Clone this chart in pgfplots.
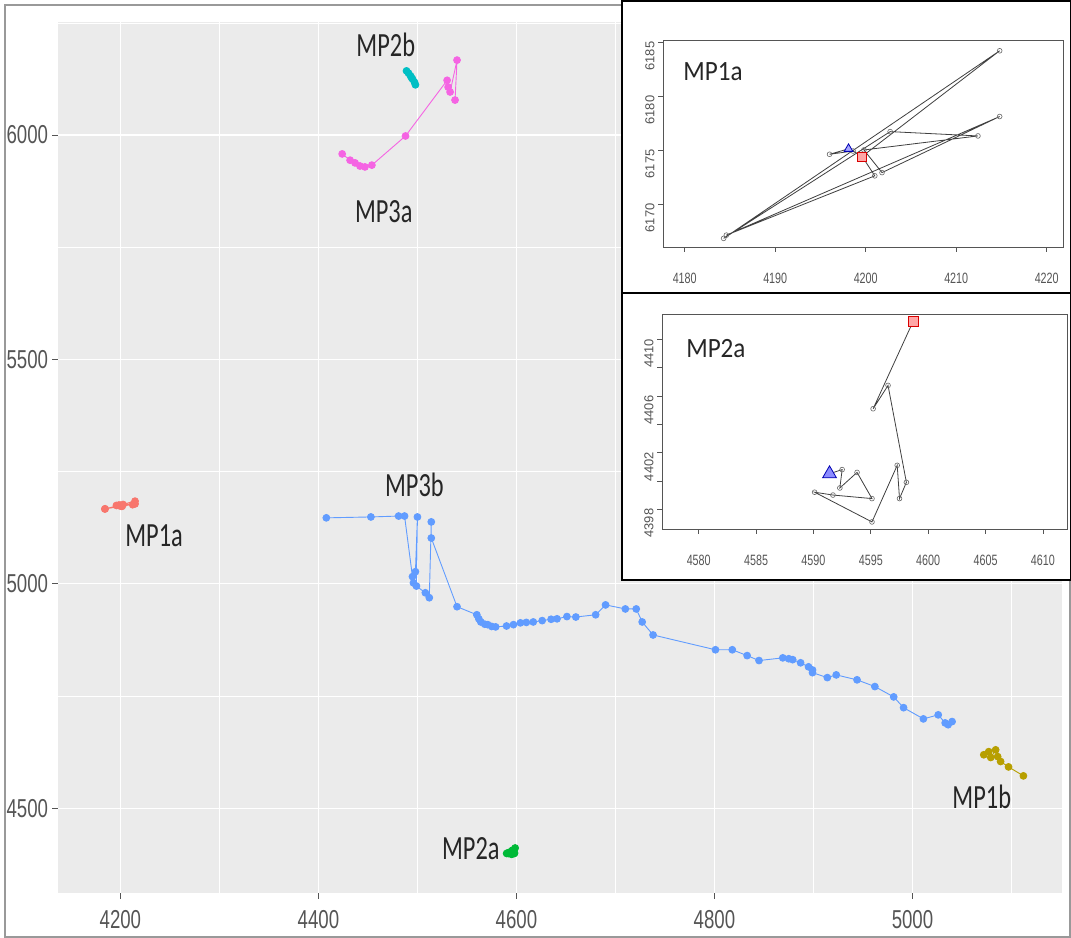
\documentclass[border=0pt]{standalone}
\usepackage{pgfplots}
\pgfplotsset{compat=1.18}
\usepackage{fontspec}
\setmainfont{Liberation Sans}
\newfontfamily\calfont{Carlito}
\definecolor{ggbg}{HTML}{EBEBEB}
\definecolor{ca}{HTML}{F8766D}
\definecolor{cb}{HTML}{B79F00}
\definecolor{cc}{HTML}{00BA38}
\definecolor{cd}{HTML}{00BFC4}
\definecolor{ce}{HTML}{F564E3}
\definecolor{cf}{HTML}{619CFF}
\definecolor{tickgray}{HTML}{555555}
\pgfplotsset{
  ggline/.style={color=#1, line width=0.9bp, mark=*, mark size=3.4bp, mark options={fill=#1, draw=#1}},
  inset/.style={scale only axis, axis background/.style={fill=white},
    axis line style={tickgray, line width=0.7bp},
    tick align=outside, xtick pos=left, ytick pos=left, major tick length=5bp,
    tick style={tickgray, line width=0.7bp},
    ticklabel style={text=tickgray},
    xticklabel style={font=\fontsize{15}{15}\selectfont, xscale=0.72, anchor=north, yshift=-18bp},
    yticklabel style={font=\fontsize{13}{13}\selectfont, rotate=90, anchor=south, xshift=-14bp},
    /pgf/number format/1000 sep={}, /pgf/number format/assume math mode=true},
  rline/.style={color=black!75, line width=0.8bp, mark=o, mark size=2.4bp, mark options={draw=black!60, line width=0.6bp, fill=white}},
}
\begin{document}
\begin{tikzpicture}[x=1bp,y=1bp]
\path[use as bounding box] (0,0) rectangle (1071,938);
\draw[gray!80, line width=1.2bp] (5,1) rectangle (1070,933);
\begin{axis}[
  at={(58bp,45bp)}, anchor=south west, scale only axis, width=1004bp, height=871bp,
  xmin=4137, xmax=5151, ymin=4311, ymax=6252,
  axis background/.style={fill=ggbg},
  axis line style={draw=none},
  grid=both,
  major grid style={white, line width=1.3bp},
  minor grid style={white, line width=0.6bp},
  xtick={4200,4400,4600,4800,5000}, ytick={4500,5000,5500,6000},
  minor xtick={4300,4500,4700,4900,5100}, minor ytick={4750,5250,5750,6250},
  tick align=outside, major tick length=6bp, minor tick length=0bp,
  xtick pos=left, ytick pos=left,
  tick style={color=tickgray, line width=0.8bp},
  ticklabel style={font=\fontsize{26}{26}\selectfont, text=tickgray, xscale=0.72},
  xticklabel style={anchor=north, yshift=-8bp},
  yticklabel style={anchor=east, xshift=-2bp},
  /pgf/number format/1000 sep={}, /pgf/number format/assume math mode=true,
]
% MP3b
\addplot[ggline=cf] coordinates {
(4408,5147)(4453,5149)(4481,5151)(4487,5151)(4495,5016)(4496,5002)(4498,5027)(4500,5149)
(4499,4995)(4508,4980)(4512,4969)(4514,5138)(4514,5102)(4540,4949)(4560,4931)(4562,4922)
(4564,4915)(4568,4910)(4571,4909)(4575,4905)(4579,4904)(4590,4906)(4597,4909)(4604,4913)
(4610,4914)(4617,4915)(4626,4918)(4635,4921)(4641,4922)(4651,4927)(4660,4926)(4680,4931)
(4690,4953)(4710,4944)(4721,4944)(4727,4915)(4738,4886)(4801,4853)(4818,4853)(4833,4840)
(4845,4829)(4869,4835)(4875,4833)(4879,4831)(4887,4824)(4895,4815)(4899,4808)(4899,4802)
(4914,4791)(4923,4797)(4944,4786)(4962,4771)(4981,4748)(4991,4724)(5011,4699)(5026,4708)
(5033,4690)(5040,4693)(5036,4686)
};
% MP3a
\addplot[ggline=ce] coordinates {
(4424,5958)(4432,5944)(4437,5938)(4442,5931)(4447,5929)(4454,5933)(4488,5998)(4530,6122)
(4531,6107)(4533,6096)(4540,6167)(4538,6078)
};
% MP2b
\addplot[ggline=cd] coordinates {
(4489,6143)(4491,6138)(4493,6132)(4494,6128)(4495,6125)(4497,6118)(4498,6112)
};
% MP1b
\addplot[ggline=cb] coordinates {
(5072,4619)(5077,4626)(5084,4630)(5079,4613)(5086,4615)(5089,4604)(5097,4592)(5112,4572)
};
% MP1a
\addplot[ggline=ca] coordinates {
(4198.1,5175.1)(4196.0,5174.6)(4198.6,5174.9)(4199.6,5174.4)(4214.8,5184.2)(4184.3,5166.8)
(4202.7,5176.7)(4212.4,5176.3)(4199.8,5175.0)(4201.8,5172.9)(4214.8,5178.1)(4184.6,5167.1)
(4201.0,5172.6)(4199.6,5174.4)
};
% MP2a
\addplot[ggline=cc] coordinates {
(4591.4,4400.5)(4592.5,4400.8)(4592.3,4399.5)(4593.8,4400.6)(4595.1,4398.75)(4591.7,4399.0)
(4590.1,4399.2)(4595.1,4397.1)(4597.3,4401.1)(4597.5,4398.75)(4598.1,4399.9)(4596.5,4406.75)
(4595.2,4405.1)(4598.7,4411.3)
};
\tikzset{lab/.style={font=\calfont\fontsize{34}{34}\selectfont, text=black!85, xscale=0.72, inner sep=0pt}}
\node[lab] at (axis cs:4234,5107) {MP1a};
\node[lab] at (axis cs:4497,5220) {MP3b};
\node[lab] at (axis cs:4468,6200) {MP2b};
\node[lab] at (axis cs:4466,5829) {MP3a};
\node[lab] at (axis cs:4554,4410) {MP2a};
\node[lab] at (axis cs:5070,4526) {MP1b};
\end{axis}
% inset boxes
\draw[black, line width=1.6bp, fill=white] (622,645) rectangle (1071,937);
\draw[black, line width=1.6bp, fill=white] (622,358) rectangle (1071,645);
% inset 1
\begin{axis}[inset, at={(663bp,691bp)}, anchor=south west, width=400bp, height=207bp,
  xmin=4177.6, xmax=4221.8, ymin=6166.0, ymax=6185.2,
  xtick={4180,4190,4200,4210,4220}, ytick={6170,6175,6180,6185}]
\addplot[rline] coordinates {
(4198.1,6175.1)(4196.0,6174.6)(4198.6,6174.9)(4199.6,6174.4)(4214.8,6184.2)(4184.3,6166.8)
(4202.7,6176.7)(4212.4,6176.3)(4199.8,6175.0)(4201.8,6172.9)(4214.8,6178.1)(4184.6,6167.1)
(4201.0,6172.6)(4199.6,6174.4)
};
\addplot[only marks, mark=triangle*, mark size=5bp, mark options={draw=blue!70!black, fill=blue!35, line width=0.8bp}] coordinates {(4198.1,6175.1)};
\addplot[only marks, mark=square*, mark size=4.5bp, mark options={draw=red!85!black, fill=red!35, line width=0.8bp}] coordinates {(4199.6,6174.4)};
\node[font=\calfont\fontsize{28}{28}\selectfont, text=black!85, xscale=0.9, inner sep=0pt] at (rel axis cs:0.125,0.845) {MP1a};
\end{axis}
% inset 2
\begin{axis}[inset, at={(662bp,409bp)}, anchor=south west, width=405bp, height=215bp,
  xmin=4576.8, xmax=4612.1, ymin=4396.6, ymax=4411.8,
  xtick={4580,4585,4590,4595,4600,4605,4610}, ytick={4398,4400,4402,4404,4406,4408,4410},
  yticklabels={4398,,4402,,4406,,4410}]
\addplot[rline] coordinates {
(4591.4,4400.5)(4592.5,4400.8)(4592.3,4399.5)(4593.8,4400.6)(4595.1,4398.75)(4591.7,4399.0)
(4590.1,4399.2)(4595.1,4397.1)(4597.3,4401.1)(4597.5,4398.75)(4598.1,4399.9)(4596.5,4406.75)
(4595.2,4405.1)(4598.7,4411.3)
};
\addplot[only marks, mark=triangle*, mark size=8bp, mark options={draw=blue!70!black, fill=blue!45, line width=0.8bp}] coordinates {(4591.4,4400.5)};
\addplot[only marks, mark=square*, mark size=5bp, mark options={draw=red!85!black, fill=red!35, line width=0.8bp}] coordinates {(4598.7,4411.3)};
\node[font=\calfont\fontsize{28}{28}\selectfont, text=black!85, xscale=0.9, inner sep=0pt] at (rel axis cs:0.133,0.837) {MP2a};
\end{axis}
\end{tikzpicture}
\end{document}
